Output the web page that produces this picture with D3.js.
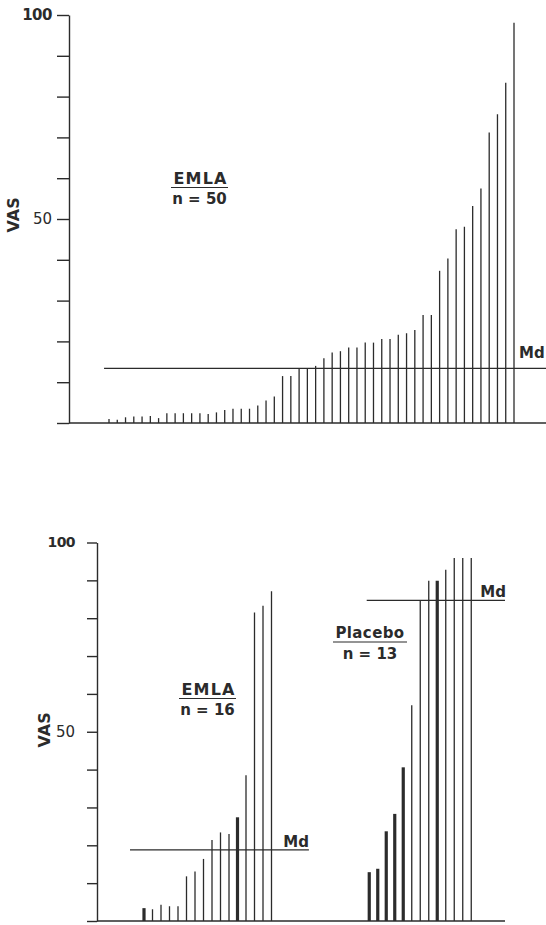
<!DOCTYPE html>
<html>
<head>
    <title>VAS EMLA vs Placebo</title>
    <script src="https://d3js.org/d3.v7.min.js"></script>
    <style>
        body { margin: 0; background: #fff; }
        text { font-family: "DejaVu Sans", "Liberation Sans", Arial, sans-serif; fill: #2b2b2b; }
    </style>
</head>
<body>
    <div id="chart"></div>
    <script>
        // data (VAS score per patient, sorted)
        var emla50 = [1.0, 0.8, 1.4, 1.6, 1.6, 1.7, 1.2, 2.4, 2.4, 2.4,
                      2.4, 2.4, 2.2, 2.6, 3.2, 3.5, 3.5, 3.5, 4.3, 5.5,
                      6.5, 11.5, 11.5, 13.4, 13.4, 14.0, 15.9, 17.3, 17.6, 18.5,
                      18.5, 19.7, 19.7, 20.6, 20.6, 21.6, 22.0, 22.8, 26.5, 26.5,
                      37.3, 40.3, 47.5, 48.1, 53.2, 57.5, 71.2, 75.7, 83.4, 98.1];
        var emla50Median = 13.4;

        var emla16 = [3.4, 3.1, 4.3, 3.9, 3.9, 11.8, 13.1, 16.4, 21.4, 23.4,
                      23.0, 27.4, 38.5, 81.5, 83.3, 87.1];
        var emla16Marked = [1, 0, 0, 0, 0, 0, 0, 0, 0, 0, 0, 1, 0, 0, 0, 0];
        var emla16Median = 18.8;

        var placebo13 = [12.9, 13.8, 23.7, 28.3, 40.6, 57.0, 84.6, 89.9, 89.9, 92.8,
                         95.9, 95.9, 95.9];
        var placebo13Marked = [1, 1, 1, 1, 1, 0, 0, 0, 1, 0, 0, 0, 0];
        var placebo13Median = 84.7;

        var yTicks = [0, 10, 20, 30, 40, 50, 60, 70, 80, 90, 100];
        var yLabels = [50, 100];

        var ink = "#2b2b2b";

        var svg = d3.select("#chart")
            .append("svg")
            .attr("width", 546)
            .attr("height", 925);

        // ---------- top panel: EMLA n = 50 ----------
        var upper = svg.append("g");

        var y1 = d3.scaleLinear().domain([0, 100]).range([423, 15]);
        var x1 = d3.scaleLinear().domain([0, 49]).range([109, 514]);

        var axis1 = upper.append("g")
            .attr("transform", "translate(69,0)")
            .call(d3.axisLeft(y1)
                .tickValues(yTicks)
                .tickSize(12)
                .tickPadding(5)
                .tickSizeOuter(0)
                .tickFormat(function (d) { return yLabels.indexOf(d) >= 0 ? d : ""; }));
        axis1.selectAll("line, path").attr("stroke", ink).attr("stroke-width", 1.4);
        axis1.selectAll("text")
            .style("font-size", "15px")
            .style("font-weight", function (d) { return d === 100 ? "bold" : "normal"; })
            .style("letter-spacing", function (d) { return d === 100 ? "-0.5px" : "0px"; })
            .attr("fill", ink);

        // baseline
        upper.append("line")
            .attr("x1", 69).attr("x2", 546)
            .attr("y1", y1(0)).attr("y2", y1(0))
            .attr("stroke", ink).attr("stroke-width", 1.4);

        upper.append("text")
            .attr("transform", "translate(14," + y1(51) + ") rotate(-90)")
            .attr("text-anchor", "middle")
            .attr("dominant-baseline", "middle")
            .style("font-size", "16px")
            .style("font-weight", "bold")
            .text("VAS");

        upper.append("g")
            .selectAll("line")
            .data(emla50)
            .enter()
            .append("line")
            .attr("x1", function (d, i) { return x1(i); })
            .attr("x2", function (d, i) { return x1(i); })
            .attr("y1", y1(0))
            .attr("y2", function (d) { return y1(d); })
            .attr("stroke", ink)
            .attr("stroke-width", 1.3);

        // median line
        upper.append("line")
            .attr("x1", x1(-0.6)).attr("x2", 546)
            .attr("y1", y1(emla50Median)).attr("y2", y1(emla50Median))
            .attr("stroke", ink).attr("stroke-width", 1.3);
        upper.append("text")
            .attr("x", 519).attr("y", y1(emla50Median) - 10)
            .style("font-size", "15px").style("font-weight", "bold")
            .text("Md");

        // group label
        upper.append("text")
            .attr("x", 200.5).attr("y", 184)
            .attr("text-anchor", "middle")
            .style("font-size", "16px").style("font-weight", "bold")
            .style("letter-spacing", "1.2px")
            .text("EMLA");
        upper.append("line")
            .attr("x1", 171).attr("x2", 228).attr("y1", 187.5).attr("y2", 187.5)
            .attr("stroke", ink).attr("stroke-width", 1.2);
        upper.append("text")
            .attr("x", 199.5).attr("y", 203.5)
            .attr("text-anchor", "middle")
            .style("font-size", "15px").style("font-weight", "bold")
            .text("n = 50");

        // ---------- bottom panel: EMLA n = 16 vs Placebo n = 13 ----------
        var lower = svg.append("g");

        var y2 = d3.scaleLinear().domain([0, 100]).range([921, 542.5]);
        // one slot scale for both groups; placebo starts after a gap
        var x2 = d3.scaleLinear().domain([0, 15]).range([144, 271.5]);
        var placeboStart = 26.5;

        var axis2 = lower.append("g")
            .attr("transform", "translate(97,0)")
            .call(d3.axisLeft(y2)
                .tickValues(yTicks)
                .tickSize(10)
                .tickPadding(12)
                .tickSizeOuter(0)
                .tickFormat(function (d) { return yLabels.indexOf(d) >= 0 ? d : ""; }));
        axis2.selectAll("line, path").attr("stroke", ink).attr("stroke-width", 1.4);
        axis2.selectAll("text")
            .style("font-size", function (d) { return d === 100 ? "14px" : "15px"; })
            .style("font-weight", function (d) { return d === 100 ? "bold" : "normal"; })
            .style("letter-spacing", function (d) { return d === 100 ? "-0.6px" : "0px"; })
            .attr("fill", ink);

        lower.append("line")
            .attr("x1", 97).attr("x2", 505)
            .attr("y1", y2(0)).attr("y2", y2(0))
            .attr("stroke", ink).attr("stroke-width", 1.4);

        lower.append("text")
            .attr("transform", "translate(45," + y2(50.5) + ") rotate(-90)")
            .attr("text-anchor", "middle")
            .attr("dominant-baseline", "middle")
            .style("font-size", "16px")
            .style("font-weight", "bold")
            .text("VAS");

        lower.append("g")
            .selectAll("line")
            .data(emla16)
            .enter()
            .append("line")
            .attr("x1", function (d, i) { return x2(i); })
            .attr("x2", function (d, i) { return x2(i); })
            .attr("y1", y2(0))
            .attr("y2", function (d) { return y2(d); })
            .attr("stroke", ink)
            .attr("stroke-width", function (d, i) { return emla16Marked[i] ? 3.2 : 1.3; });

        lower.append("g")
            .selectAll("line")
            .data(placebo13)
            .enter()
            .append("line")
            .attr("x1", function (d, i) { return x2(placeboStart + i); })
            .attr("x2", function (d, i) { return x2(placeboStart + i); })
            .attr("y1", y2(0))
            .attr("y2", function (d) { return y2(d); })
            .attr("stroke", ink)
            .attr("stroke-width", function (d, i) { return placebo13Marked[i] ? 3.2 : 1.3; });

        // median lines
        lower.append("line")
            .attr("x1", x2(-1.65)).attr("x2", x2(19.4))
            .attr("y1", y2(emla16Median)).attr("y2", y2(emla16Median))
            .attr("stroke", ink).attr("stroke-width", 1.3);
        lower.append("text")
            .attr("x", x2(19.4)).attr("y", y2(emla16Median) - 3)
            .attr("text-anchor", "end")
            .style("font-size", "15px").style("font-weight", "bold")
            .text("Md");

        lower.append("line")
            .attr("x1", x2(placeboStart - 0.3)).attr("x2", 505)
            .attr("y1", y2(placebo13Median)).attr("y2", y2(placebo13Median))
            .attr("stroke", ink).attr("stroke-width", 1.3);
        lower.append("text")
            .attr("x", 506).attr("y", y2(placebo13Median) - 3)
            .attr("text-anchor", "end")
            .style("font-size", "15px").style("font-weight", "bold")
            .text("Md");

        // group labels
        lower.append("text")
            .attr("x", 208.5).attr("y", 695)
            .attr("text-anchor", "middle")
            .style("font-size", "16px").style("font-weight", "bold")
            .style("letter-spacing", "1.2px")
            .text("EMLA");
        lower.append("line")
            .attr("x1", 179).attr("x2", 236).attr("y1", 698.5).attr("y2", 698.5)
            .attr("stroke", ink).attr("stroke-width", 1.2);
        lower.append("text")
            .attr("x", 207.5).attr("y", 715)
            .attr("text-anchor", "middle")
            .style("font-size", "15px").style("font-weight", "bold")
            .text("n = 16");

        lower.append("text")
            .attr("x", 370).attr("y", 638)
            .attr("text-anchor", "middle")
            .style("font-size", "15px").style("font-weight", "bold")
            .style("letter-spacing", "0.4px")
            .text("Placebo");
        lower.append("line")
            .attr("x1", 333).attr("x2", 407).attr("y1", 642).attr("y2", 642)
            .attr("stroke", ink).attr("stroke-width", 1.2);
        lower.append("text")
            .attr("x", 370).attr("y", 658.5)
            .attr("text-anchor", "middle")
            .style("font-size", "15px").style("font-weight", "bold")
            .text("n = 13");
    </script>
</body>
</html>
